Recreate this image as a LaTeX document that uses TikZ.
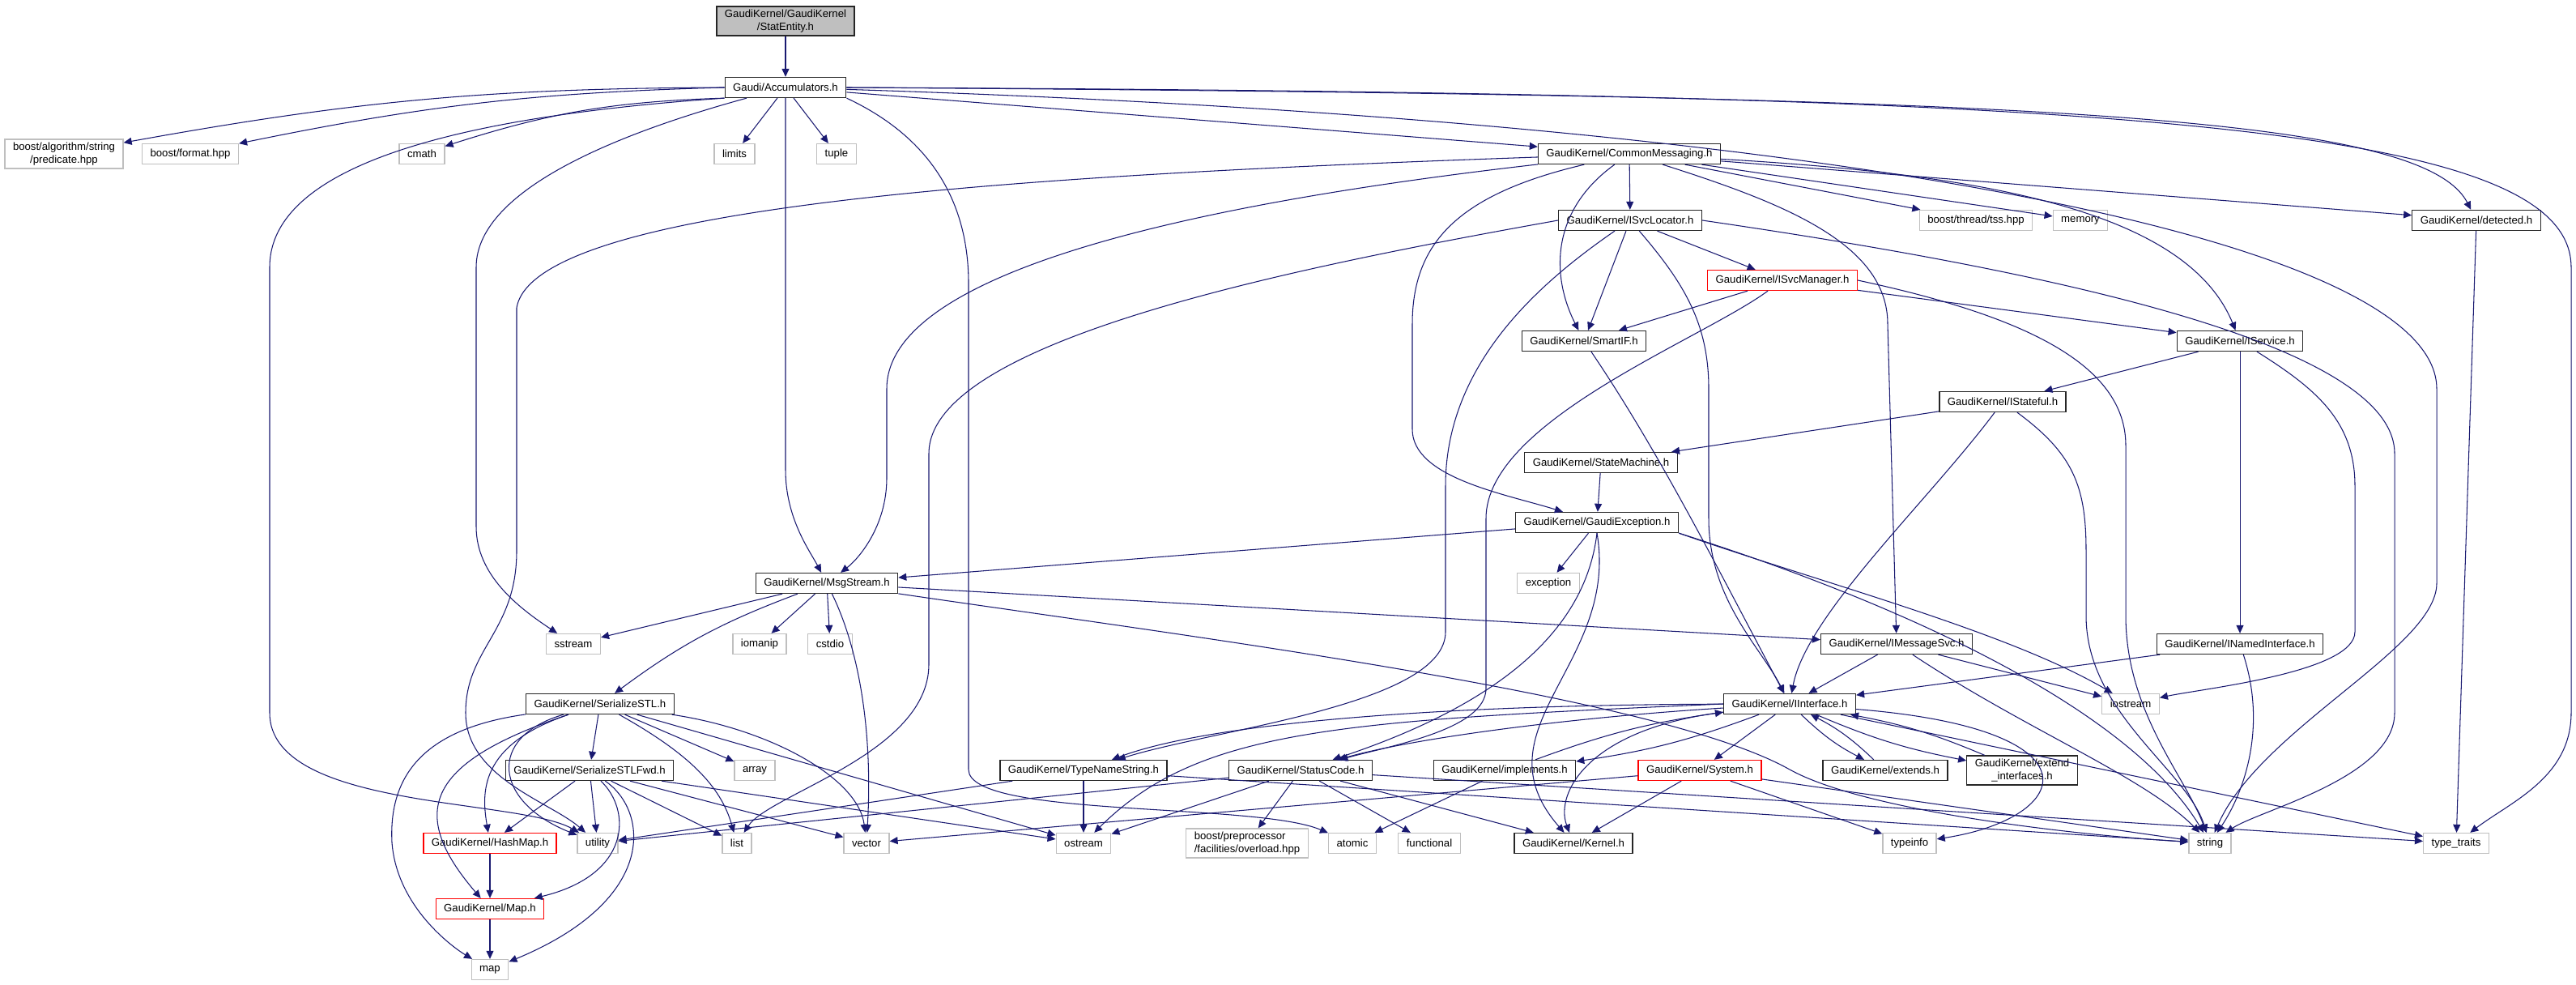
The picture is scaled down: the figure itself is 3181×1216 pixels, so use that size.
\documentclass[tikz,border=0pt]{standalone}
\usepackage{fontspec}
\setmainfont{Liberation Sans}
\usetikzlibrary{arrows.meta}
\definecolor{edgeblue}{HTML}{191970}
\definecolor{sysgray}{HTML}{BFBFBF}
\newcommand{\gfont}{\fontsize{7.5}{9}\selectfont}
\tikzset{
  dep/.style     = {-{Triangle[length=0.2cm, width=0.18cm]}, draw=edgeblue, line width=0.6pt},
  %% Box presets
  hbox/.style    = {draw=black!85, fill=white,   line width=0.75pt, minimum height=0.5cm, inner xsep=0.2cm, inner ysep=0.08cm, align=center, font=\gfont},
  sbox/.style    = {draw=sysgray,  fill=white,   line width=0.75pt, minimum height=0.5cm, inner xsep=0.2cm, inner ysep=0.08cm, align=center, font=\gfont},
  rbox/.style    = {draw=red,      fill=white,   line width=0.75pt, minimum height=0.5cm, inner xsep=0.2cm, inner ysep=0.08cm, align=center, font=\gfont},
  rootbox/.style = {draw=black!85, fill=sysgray, line width=0.75pt, minimum height=0.5cm, inner xsep=0.2cm, inner ysep=0.08cm, align=center, font=\gfont},
}
\begin{document}
\begin{tikzpicture}[x=0.02cm, y=-0.02cm]
\useasboundingbox (0,0) rectangle (3181,1216);

%% ---- row 0/1: root and Accumulators ----
\node[rootbox] (root) at (970,26)  {GaudiKernel/GaudiKernel\\/StatEntity.h};
\node[hbox]    (acc)  at (970,108) {Gaudi/Accumulators.h};

%% ---- row 2 ----
\node[sbox] (predicate) at (79,190)   {boost/algorithm/string\\/predicate.hpp};
\node[sbox] (format)    at (235,190)  {boost/format.hpp};
\node[sbox] (cmath)     at (521,190)  {cmath};
\node[sbox] (limits)    at (907,190)  {limits};
\node[sbox] (tuple)     at (1033,190) {tuple};
\node[hbox] (commsg)    at (2012,190) {GaudiKernel/CommonMessaging.h};

%% ---- row 3 ----
\node[hbox] (svcloc)   at (2013,272) {GaudiKernel/ISvcLocator.h};
\node[sbox] (tss)      at (2440,272) {boost/thread/tss.hpp};
\node[sbox] (memory)   at (2569,272) {memory};
\node[hbox] (detected) at (3058,272) {GaudiKernel/detected.h};
\node[rbox] (svcmgr)   at (2201,346) {GaudiKernel/ISvcManager.h};

%% ---- rows 4 to 7 ----
\node[hbox] (smartif)   at (1956,421) {GaudiKernel/SmartIF.h};
\node[hbox] (iservice)  at (2766,421) {GaudiKernel/IService.h};
\node[hbox] (istateful) at (2473,496) {GaudiKernel/IStateful.h};
\node[hbox] (statemach) at (1977,571) {GaudiKernel/StateMachine.h};
\node[hbox] (gexc)      at (1972,645) {GaudiKernel/GaudiException.h};
\node[hbox] (msgstream) at (1021,720) {GaudiKernel/MsgStream.h};
\node[sbox] (exception) at (1912,720) {exception};

%% ---- row 8 ----
\node[sbox] (sstream) at (708,795)  {sstream};
\node[sbox] (iomanip) at (938,795)  {iomanip};
\node[sbox] (cstdio)  at (1025,795) {cstdio};
\node[hbox] (imsgsvc) at (2342,795) {GaudiKernel/IMessageSvc.h};
\node[hbox] (inamed)  at (2766,795) {GaudiKernel/INamedInterface.h};

%% ---- row 9 ----
\node[hbox] (serstl)     at (741,869)  {GaudiKernel/SerializeSTL.h};
\node[hbox] (iinterface) at (2210,869) {GaudiKernel/IInterface.h};
\node[sbox] (iostream)   at (2631,869) {iostream};

%% ---- row 10 ----
\node[hbox] (serfwd)     at (728,951)  {GaudiKernel/SerializeSTLFwd.h};
\node[sbox] (array)      at (932,951)  {array};
\node[hbox] (typename)   at (1338,951) {GaudiKernel/TypeNameString.h};
\node[hbox] (statuscode) at (1606,951) {GaudiKernel/StatusCode.h};
\node[hbox] (implements) at (1858,951) {GaudiKernel/implements.h};
\node[rbox] (system)     at (2099,951) {GaudiKernel/System.h};
\node[hbox] (extends)    at (2328,951) {GaudiKernel/extends.h};
\node[hbox] (extendif)   at (2497,951) {GaudiKernel/extend\\\_interfaces.h};

%% ---- row 11 ----
\node[rbox] (hashmap)    at (605,1041)  {GaudiKernel/HashMap.h};
\node[sbox] (utility)    at (738,1041)  {utility};
\node[sbox] (list)       at (910,1041)  {list};
\node[sbox] (vector)     at (1070,1041) {vector};
\node[sbox] (ostream)    at (1338,1041) {ostream};
\node[sbox, align=left] (overload) at (1540,1041) {boost/preprocessor\\/facilities/overload.hpp};
\node[sbox] (atomic)     at (1670,1041) {atomic};
\node[sbox] (functional) at (1765,1041) {functional};
\node[hbox] (kernel)     at (1943,1041) {GaudiKernel/Kernel.h};
\node[sbox] (typeinfo)   at (2358,1041) {typeinfo};
\node[sbox] (string)     at (2729,1041) {string};
\node[sbox] (typetraits) at (3033,1041) {type\_traits};

%% ---- rows 12/13 ----
\node[rbox] (maph) at (605,1122) {GaudiKernel/Map.h};
\node[sbox] (map)  at (605,1197) {map};

%% ---- Accumulators.h ----
\draw[dep] (root) -- (acc);
\draw[dep] (acc.west) to[bend right=5] (predicate);
\draw[dep] (acc.west) to[bend right=5] (format);
\draw[dep] (acc.south west) to[bend right=8] (cmath);
\draw[dep] (acc) -- (limits);
\draw[dep] (acc) -- (tuple);
\draw[dep] (acc.south west) .. controls (620,140) and (333,190) .. (333,330) -- (333,880)
  .. controls (333,1000) and (640,985) .. (utility);
\draw[dep] (acc) .. controls (780,160) and (588,230) .. (588,330) -- (588,650)
  .. controls (588,710) and (640,750) .. (sstream);
\draw[dep] (acc.south) -- (970,580) .. controls (970,640) and (1000,680) .. (msgstream);
\draw[dep] (acc.south east) .. controls (1150,170) and (1196,250) .. (1196,350) -- (1196,950)
  .. controls (1196,1010) and (1550,990) .. (atomic);
\draw[dep] (acc) -- (commsg);
\draw[dep] (acc.east) .. controls (2500,118) and (2990,140) .. (detected);
\draw[dep] (acc.east) .. controls (2600,115) and (3175,150) .. (3175,330) -- (3175,880)
  .. controls (3175,960) and (3100,990) .. (typetraits);
\draw[dep] (acc) .. controls (2300,150) and (3009,300) .. (3009,480) -- (3009,720)
  .. controls (3009,800) and (2790,900) .. (string);

%% ---- CommonMessaging.h ----
\draw[dep] (commsg) -- (svcloc);
\draw[dep] (commsg) -- (tss);
\draw[dep] (commsg) -- (memory);
\draw[dep] (commsg) -- (detected);
\draw[dep] (commsg) .. controls (2450,215) and (2700,260) .. (iservice);
\draw[dep] (commsg) .. controls (2200,250) and (2331,300) .. (2331,400) -- (imsgsvc);
\draw[dep] (commsg) .. controls (1915,260) and (1915,340) .. (smartif);
\draw[dep] (commsg) .. controls (1800,240) and (1744,300) .. (1744,400) -- (1744,530)
  .. controls (1744,590) and (1860,610) .. (gexc);
\draw[dep] (commsg) .. controls (1400,260) and (1095,350) .. (1095,480) -- (1095,590)
  .. controls (1095,650) and (1060,690) .. (msgstream);
\draw[dep] (commsg) .. controls (1300,215) and (660,250) .. (638,380) -- (638,680)
  .. controls (638,780) and (575,800) .. (575,880) .. controls (575,960) and (680,990) .. (utility);

%% ---- ISvcLocator.h / ISvcManager.h ----
\draw[dep] (svcloc) -- (smartif);
\draw[dep] (svcloc) -- (svcmgr);
\draw[dep] (svcloc) .. controls (2080,350) and (2110,400) .. (2110,480) -- (2110,640)
  .. controls (2110,740) and (2175,800) .. (iinterface);
\draw[dep] (svcloc) .. controls (1900,350) and (1785,450) .. (1785,600) -- (1785,780)
  .. controls (1785,870) and (1500,900) .. (typename);
\draw[dep] (svcloc.west) .. controls (1600,330) and (1147,420) .. (1147,560) -- (1147,820)
  .. controls (1147,930) and (950,980) .. (list);
\draw[dep] (svcloc.east) .. controls (2500,330) and (2957,420) .. (2957,560) -- (2957,880)
  .. controls (2957,960) and (2790,1000) .. (string);
\draw[dep] (svcmgr) -- (smartif);
\draw[dep] (svcmgr) -- (iservice);
\draw[dep] (svcmgr) .. controls (2100,420) and (1835,520) .. (1835,640) -- (1835,850)
  .. controls (1835,900) and (1720,920) .. (statuscode);
\draw[dep] (svcmgr.east) .. controls (2500,390) and (2625,450) .. (2625,550) -- (2625,760)
  .. controls (2625,880) and (2700,960) .. (string);
\draw[dep] (smartif) .. controls (2050,560) and (2120,700) .. (iinterface);

%% ---- IService.h / IStateful.h ----
\draw[dep] (iservice) -- (istateful);
\draw[dep] (iservice) -- (inamed);
\draw[dep] (iservice) .. controls (2860,480) and (2908,520) .. (2908,600) -- (2908,780)
  .. controls (2908,830) and (2720,850) .. (iostream);
\draw[dep] (istateful) -- (statemach);
\draw[dep] (istateful) .. controls (2380,620) and (2230,760) .. (iinterface);
\draw[dep] (istateful) .. controls (2560,560) and (2576,600) .. (2576,680) -- (2576,760)
  .. controls (2576,880) and (2700,950) .. (string);
\draw[dep] (statemach) -- (gexc);

%% ---- GaudiException.h ----
\draw[dep] (gexc) -- (msgstream);
\draw[dep] (gexc) -- (exception);
\draw[dep] (gexc.south) .. controls (1960,760) and (1880,860) .. (statuscode);
\draw[dep] (gexc.south) .. controls (2000,820) and (1820,900) .. (kernel);
\draw[dep] (gexc.south east) .. controls (2250,720) and (2480,780) .. (iostream);
\draw[dep] (gexc.south east) .. controls (2300,730) and (2620,860) .. (string);

%% ---- MsgStream.h ----
\draw[dep] (msgstream) -- (sstream);
\draw[dep] (msgstream) to[bend right=8] (serstl);
\draw[dep] (msgstream) -- (iomanip);
\draw[dep] (msgstream) -- (cstdio);
\draw[dep] (msgstream) .. controls (1060,800) and (1078,900) .. (vector);
\draw[dep] (msgstream) -- (imsgsvc);
\draw[dep] (msgstream) .. controls (1500,790) and (2050,860) .. (2210,950)
  .. controls (2300,1000) and (2550,1030) .. (string);

%% ---- SerializeSTL.h / SerializeSTLFwd.h ----
\draw[dep] (serstl) -- (serfwd);
\draw[dep] (serstl) -- (array);
\draw[dep] (serstl) .. controls (850,930) and (890,970) .. (list);
\draw[dep] (serstl) .. controls (950,900) and (1060,960) .. (vector);
\draw[dep] (serstl) -- (ostream);
\draw[dep] (serstl) .. controls (600,910) and (610,990) .. (utility);
\draw[dep] (serstl) .. controls (590,920) and (595,980) .. (hashmap);
\draw[dep] (serstl) .. controls (530,940) and (500,1000) .. (maph);
\draw[dep] (serstl) .. controls (520,900) and (480,960) .. (484,1040)
  .. controls (490,1120) and (560,1170) .. (map);
\draw[dep] (serfwd) -- (hashmap);
\draw[dep] (serfwd) -- (utility);
\draw[dep] (serfwd) .. controls (780,1000) and (780,1080) .. (maph);
\draw[dep] (serfwd) .. controls (800,1000) and (815,1110) .. (map);
\draw[dep] (serfwd) -- (list);
\draw[dep] (serfwd) -- (vector);
\draw[dep] (serfwd) -- (ostream);
\draw[dep] (hashmap) -- (maph);
\draw[dep] (maph) -- (map);

%% ---- TypeNameString.h / StatusCode.h / implements.h / System.h ----
\draw[dep] (typename) -- (ostream);
\draw[dep] (typename) -- (utility);
\draw[dep] (typename) -- (string);
\draw[dep] (statuscode) -- (utility);
\draw[dep] (statuscode) -- (ostream);
\draw[dep] (statuscode) -- (overload);
\draw[dep] (statuscode) -- (functional);
\draw[dep] (statuscode) -- (kernel);
\draw[dep] (statuscode) -- (typetraits);
\draw[dep] (implements) -- (atomic);
\draw[dep] (implements) to[bend left=6] (iinterface);
\draw[dep] (system) -- (kernel);
\draw[dep] (system) -- (typeinfo);
\draw[dep] (system) -- (string);
\draw[dep] (system) -- (vector);

%% ---- IInterface.h ----
\draw[dep] (iinterface) -- (system);
\draw[dep] (iinterface) .. controls (1960,900) and (1920,980) .. (kernel);
\draw[dep] (iinterface) .. controls (1950,885) and (1750,910) .. (statuscode);
\draw[dep] (iinterface) .. controls (1800,870) and (1500,890) .. (typename);
\draw[dep] (iinterface.west) .. controls (1650,890) and (1480,900) .. (ostream);
\draw[dep] (iinterface) to[bend left=6] (implements);
\draw[dep] (iinterface) to[bend right=8] (extends);
\draw[dep] (extends) to[bend right=8] (iinterface);
\draw[dep] (iinterface) to[bend right=6] (extendif);
\draw[dep] (extendif) to[bend right=6] (iinterface);
\draw[dep] (iinterface) .. controls (2600,900) and (2560,1010) .. (typeinfo);
\draw[dep] (iinterface) -- (typetraits);

%% ---- IMessageSvc.h / INamedInterface.h / detected.h ----
\draw[dep] (imsgsvc) -- (iinterface);
\draw[dep] (imsgsvc) -- (iostream);
\draw[dep] (imsgsvc) .. controls (2500,900) and (2650,960) .. (string);
\draw[dep] (inamed) -- (iinterface);
\draw[dep] (inamed) .. controls (2800,900) and (2770,980) .. (string);
\draw[dep] (detected) -- (typetraits);

\end{tikzpicture}
\end{document}
